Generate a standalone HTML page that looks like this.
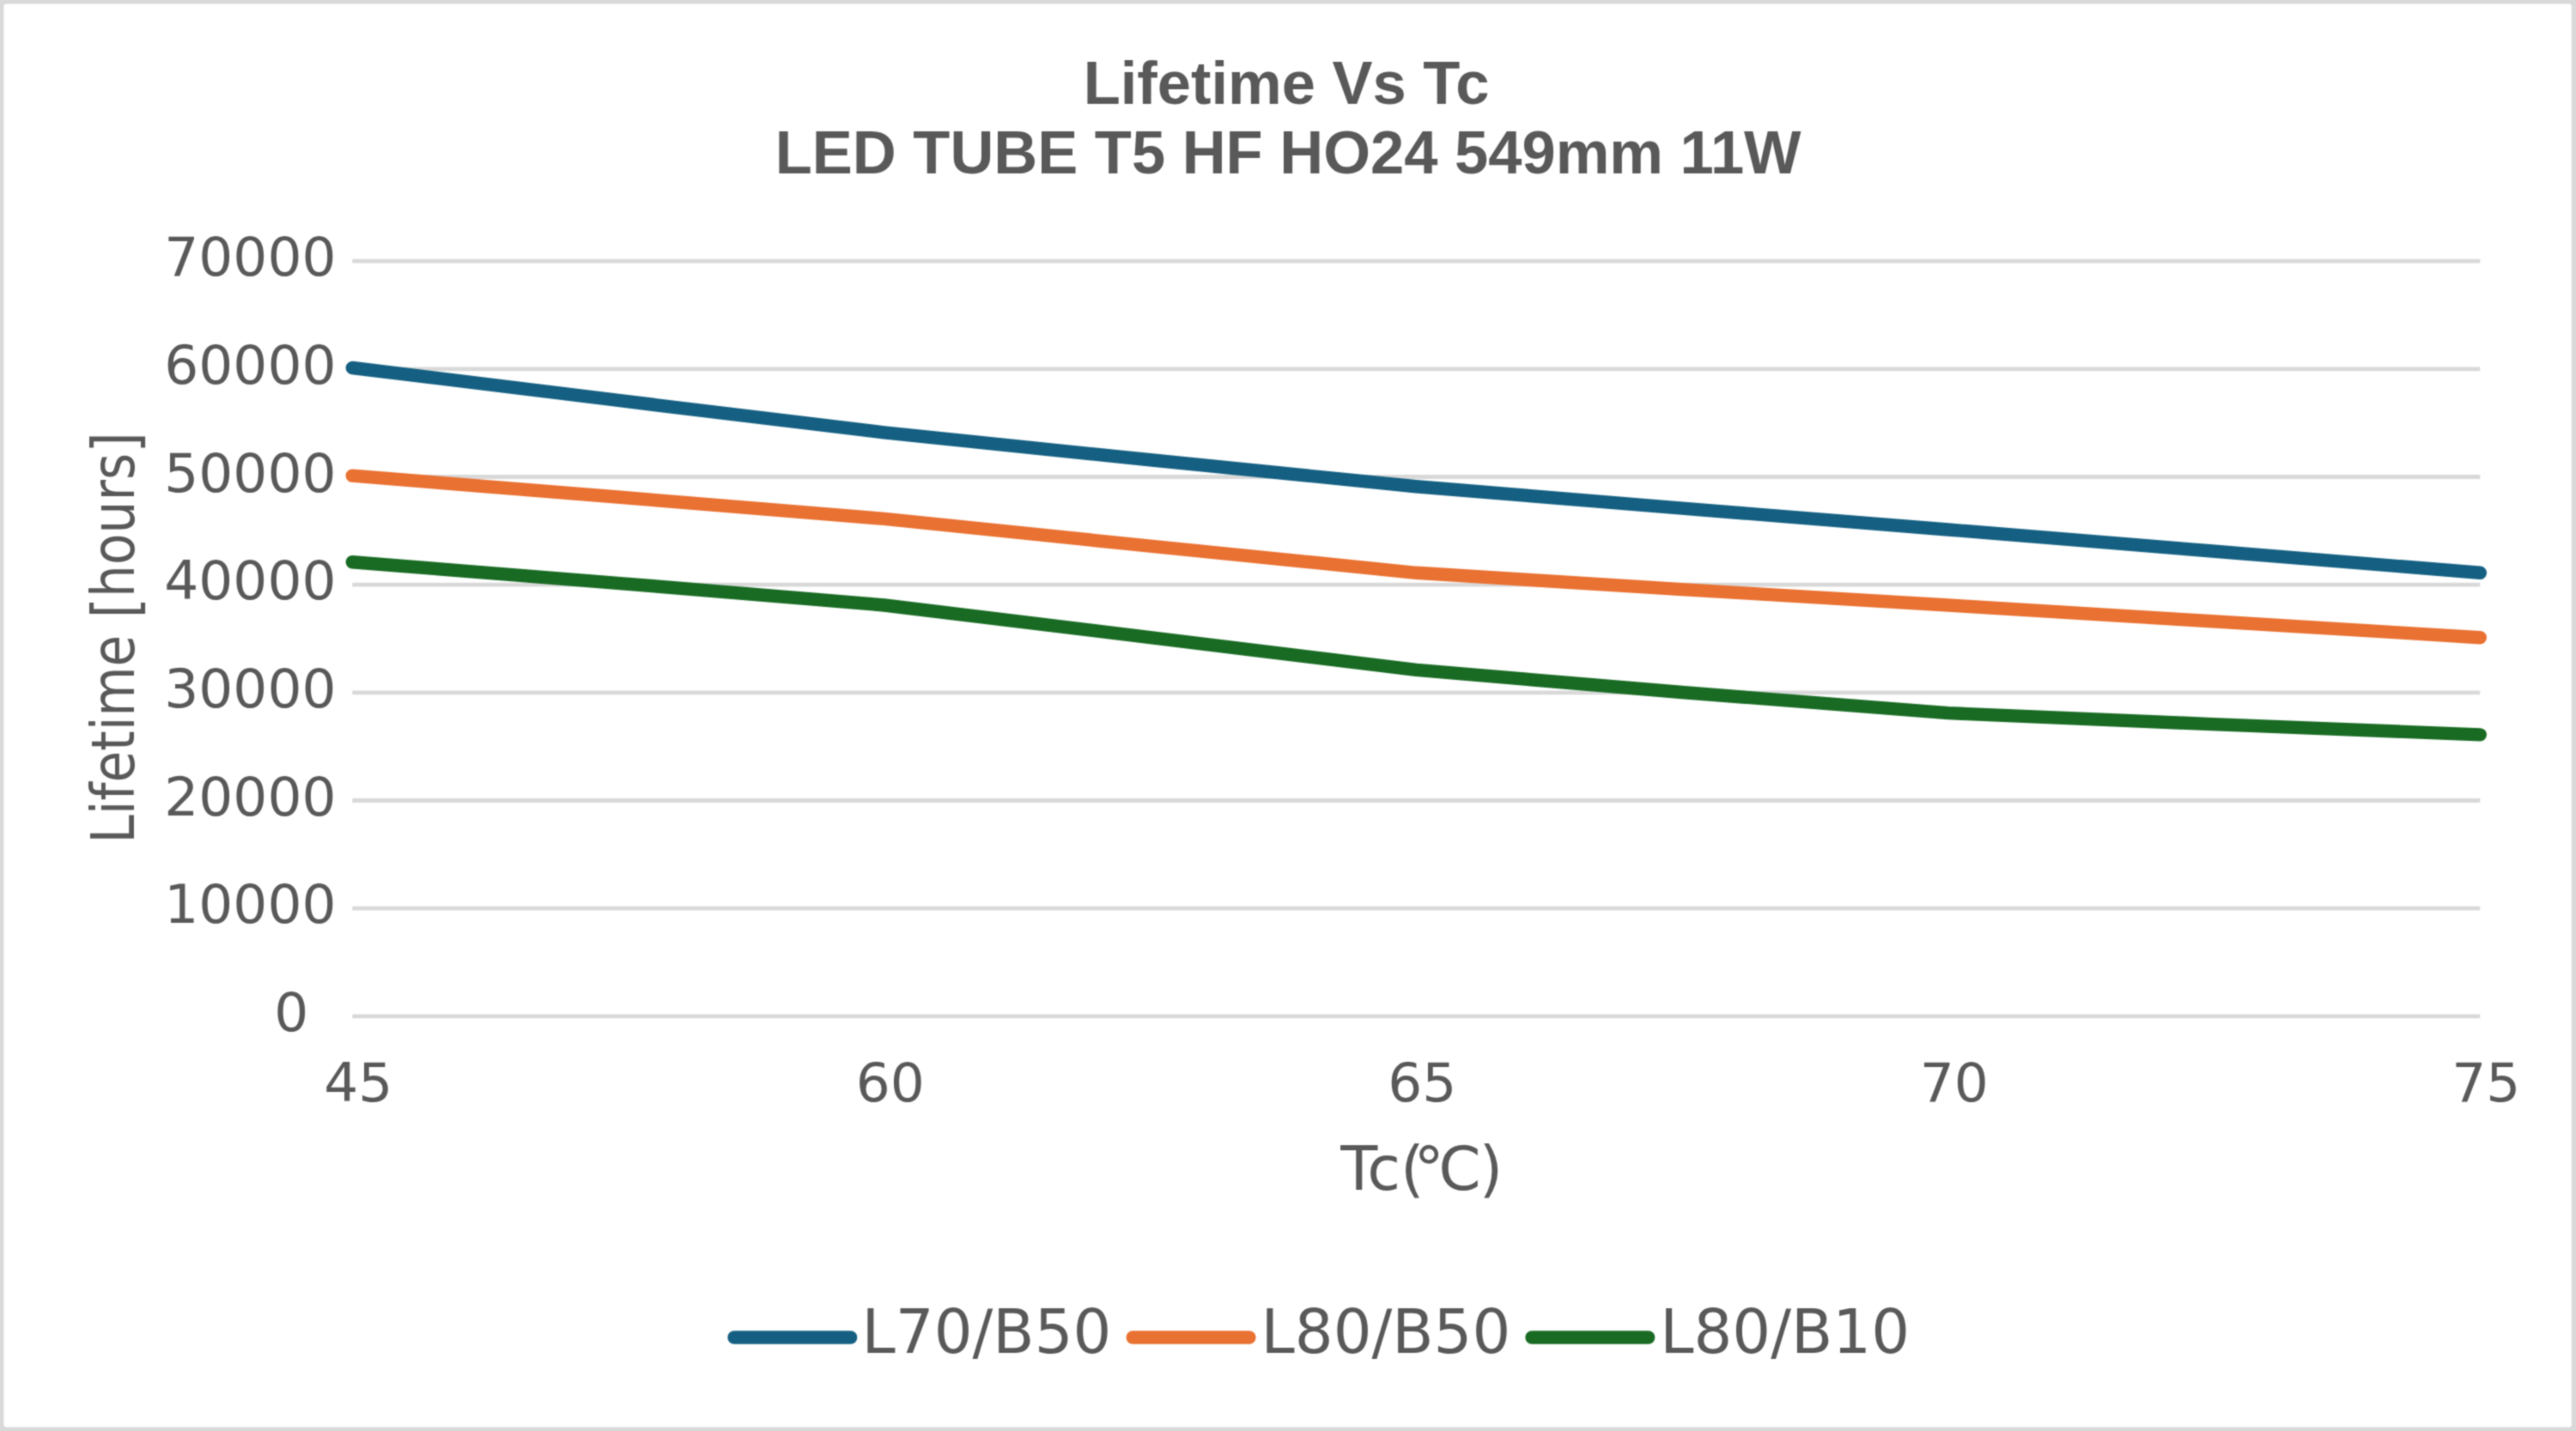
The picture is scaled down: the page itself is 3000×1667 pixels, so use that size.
<!DOCTYPE html>
<html lang="en"><head><meta charset="utf-8"><title>Lifetime Vs Tc</title>
<style>
html,body{margin:0;padding:0;background:#fff;}
body{width:3000px;height:1667px;overflow:hidden;}
svg{display:block;}
.t{font-family:"Liberation Sans",sans-serif;font-weight:700;fill:#595959;font-size:70.5px;}
.d{font-family:"DejaVu Sans","Liberation Sans",sans-serif;fill:#595959;}
.k{font-size:63px;}
.a{font-size:70.5px;}
.g{stroke:#d9d9d9;stroke-width:4.8;}
.s{fill:none;stroke-width:15.4;stroke-linecap:round;stroke-linejoin:round;}
</style></head><body>
<svg width="3000" height="1667" viewBox="0 0 3000 1667">
<defs><filter id="soft" x="-20" y="-20" width="3040" height="1707" filterUnits="userSpaceOnUse" color-interpolation-filters="sRGB"><feConvolveMatrix order="3" kernelMatrix="0.0484 0.1232 0.0484 0.1232 0.3136 0.1232 0.0484 0.1232 0.0484" edgeMode="duplicate" preserveAlpha="true"/></filter></defs>
<!-- chart frame -->
<g filter="url(#soft)">
<rect x="-20" y="-20" width="3040" height="1707" fill="#d9d9d9"/>
<rect x="4.4" y="4.5" width="2990.4" height="1657.9" rx="3" fill="#fff"/>
<!-- title -->
<text class="t" x="1498" y="120.8" text-anchor="middle">Lifetime Vs Tc</text>
<text class="t" x="1500.2" y="201.8" text-anchor="middle">LED TUBE T5 HF HO24 549mm 11W</text>
<!-- horizontal gridlines -->
<line class="g" x1="410.3" y1="304.1" x2="2888.3" y2="304.1"/>
<line class="g" x1="410.3" y1="429.8" x2="2888.3" y2="429.8"/>
<line class="g" x1="410.3" y1="555.5" x2="2888.3" y2="555.5"/>
<line class="g" x1="410.3" y1="681.2" x2="2888.3" y2="681.2"/>
<line class="g" x1="410.3" y1="806.8" x2="2888.3" y2="806.8"/>
<line class="g" x1="410.3" y1="932.5" x2="2888.3" y2="932.5"/>
<line class="g" x1="410.3" y1="1058.2" x2="2888.3" y2="1058.2"/>
<line class="g" x1="410.3" y1="1183.9" x2="2888.3" y2="1183.9"/>
<!-- value axis labels -->
<text class="d k" x="391.6" y="321.3" text-anchor="end">70000</text>
<text class="d k" x="391.6" y="447.0" text-anchor="end">60000</text>
<text class="d k" x="391.6" y="572.7" text-anchor="end">50000</text>
<text class="d k" x="391.6" y="698.4" text-anchor="end">40000</text>
<text class="d k" x="391.6" y="824.0" text-anchor="end">30000</text>
<text class="d k" x="391.6" y="949.7" text-anchor="end">20000</text>
<text class="d k" x="391.6" y="1075.4" text-anchor="end">10000</text>
<text class="d k" x="339.4" y="1201.1" text-anchor="middle">0</text>
<!-- category axis labels -->
<text class="d k" x="417.3" y="1282.6" text-anchor="middle">45</text>
<text class="d k" x="1036.8" y="1282.6" text-anchor="middle">60</text>
<text class="d k" x="1656.3" y="1282.6" text-anchor="middle">65</text>
<text class="d k" x="2275.8" y="1282.6" text-anchor="middle">70</text>
<text class="d k" x="2895.3" y="1282.6" text-anchor="middle">75</text>
<!-- axis titles -->
<text class="d a" x="1561.2" y="1386.2">Tc(<tspan dx="-12">℃</tspan><tspan dx="-3.1">)</tspan></text>
<text class="d" font-size="69.5" transform="translate(155.8,742.8) rotate(-90) scale(0.861,1)" text-anchor="middle">Lifetime <tspan font-size="73.4" dy="4.5">[</tspan><tspan dy="-4.5">hours</tspan><tspan font-size="73.4" dy="4.5">]</tspan></text>
<!-- series -->
<g transform="translate(0,-1.3)">
<path class="s" d="M410.30,429.79 C441.28,433.56 967.85,498.28 1029.80,505.20 C1091.75,512.11 1587.35,562.38 1649.30,568.04 C1711.25,573.70 2206.85,613.29 2268.80,618.31 C2330.75,623.34 2857.33,666.07 2888.30,668.59" stroke="#156082"/>
<path class="s" d="M410.30,555.47 C441.28,557.99 967.85,600.09 1029.80,605.75 C1091.75,611.40 1587.35,663.56 1649.30,668.59 C1711.25,673.62 2206.85,702.52 2268.80,706.29 C2330.75,710.06 2857.33,742.11 2888.30,744.00" stroke="#e97132"/>
<path class="s" d="M410.30,656.02 C441.28,658.53 967.85,700.01 1029.80,706.29 C1091.75,712.58 1587.35,775.42 1649.30,781.71 C1711.25,787.99 2206.85,828.21 2268.80,831.98 C2330.75,835.75 2857.33,855.86 2888.30,857.12" stroke="#196b24"/>
</g>
<!-- legend -->
<line class="s" x1="855.0" y1="1558.0" x2="990.7" y2="1558.0" stroke="#156082"/>
<text class="d a" x="1003.6" y="1576.1">L70/B50</text>
<line class="s" x1="1319.2" y1="1558.0" x2="1454.9" y2="1558.0" stroke="#e97132"/>
<text class="d a" x="1468.5" y="1576.1">L80/B50</text>
<line class="s" x1="1784.0" y1="1558.0" x2="1919.7" y2="1558.0" stroke="#196b24"/>
<text class="d a" x="1933.2" y="1576.1">L80/B10</text>
</g>
</svg>
</body></html>
